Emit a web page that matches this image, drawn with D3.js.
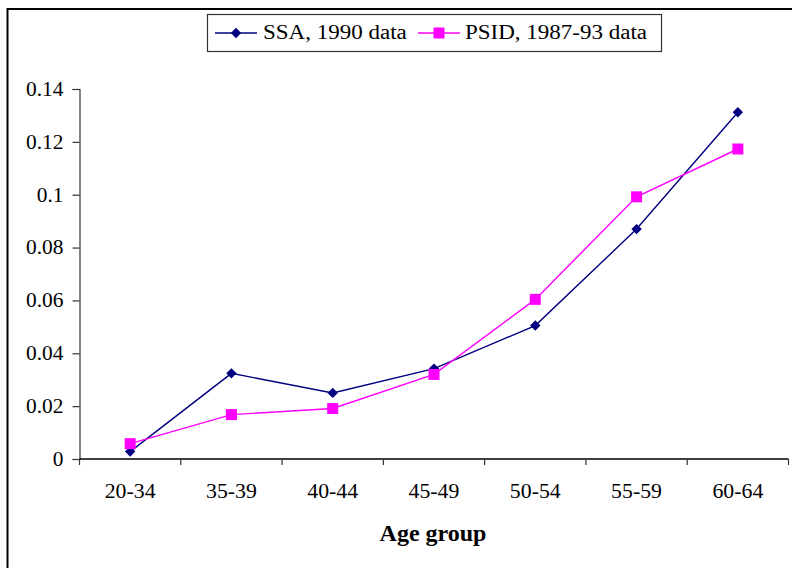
<!DOCTYPE html>
<html>
<head>
<meta charset="utf-8">
<script src="https://cdn.jsdelivr.net/npm/d3@7/dist/d3.min.js"></script>
<style>
  html, body { margin: 0; padding: 0; background: #fff; }
  svg { display: block; }
  text { font-family: "Liberation Serif", "Times New Roman", serif; fill: #000; }
</style>
</head>
<body>
<svg id="chart" width="792" height="568"></svg>
<script>
// Age groups along the x axis
const ageGroups = ["20-34", "35-39", "40-44", "45-49", "50-54", "55-59", "60-64"];
// SSA, 1990 data
const ssaValues = [0.0028, 0.0324, 0.025, 0.0342, 0.0505, 0.087, 0.1312];
// PSID, 1987-93 data
const psidValues = [0.0058, 0.0168, 0.0191, 0.032, 0.0604, 0.0992, 0.1173];
// Y axis tick values and labels
const yTicks = [0, 0.02, 0.04, 0.06, 0.08, 0.1, 0.12, 0.14];
const yTickLabels = ["0", "0.02", "0.04", "0.06", "0.08", "0.1", "0.12", "0.14"];

const seriesNames = ["SSA, 1990 data", "PSID, 1987-93 data"];
const seriesColors = ["#000080", "#FF00FF"];

const svg = d3.select("#chart");

// Widen glyphs a little so the serif text has a roomier, book-like set width
function widen(sel, factor) {
  sel.each(function () {
    const w = this.getComputedTextLength();
    this.setAttribute("textLength", (w * factor).toFixed(2));
    this.setAttribute("lengthAdjust", "spacingAndGlyphs");
  });
}

// Outer frame (left and top edges visible)
svg.append("path")
  .attr("d", "M7.5,568 L7.5,9 L792,9")
  .attr("fill", "none").attr("stroke", "#000").attr("stroke-width", 2);

const plotLeft = 79.5, plotRight = 788.5, plotTop = 89, plotBottom = 459;

const x = d3.scaleBand().domain(ageGroups).range([plotLeft, plotRight]).padding(0);
const y = d3.scaleLinear().domain([0, 0.14]).range([plotBottom, plotTop]);

// Y axis
const yAxis = d3.axisLeft(y).tickValues(yTicks)
  .tickFormat((d, i) => yTickLabels[i]).tickSize(7).tickPadding(9);
const gy = svg.append("g").attr("transform", `translate(${plotLeft},0)`).call(yAxis);
gy.select(".domain").attr("stroke", "#333").attr("stroke-width", 1.2);
gy.selectAll(".tick line").attr("stroke", "#333").attr("stroke-width", 1.2);
gy.selectAll(".tick text").attr("font-family", "Liberation Serif").attr("font-size", 20);
widen(gy.selectAll(".tick text"), 1.07);

// X axis: ticks sit on category boundaries
const gx = svg.append("g").attr("transform", `translate(0,${plotBottom})`);
gx.append("line").attr("x1", plotLeft).attr("x2", plotRight).attr("y1", 0).attr("y2", 0)
  .attr("stroke", "#000").attr("stroke-width", 1.4);
const edges = ageGroups.map(d => x(d)).concat([x(ageGroups[ageGroups.length - 1]) + x.bandwidth()]);
gx.selectAll("line.edge").data(edges).join("line").attr("class", "edge")
  .attr("x1", d => d).attr("x2", d => d).attr("y1", 0).attr("y2", 6)
  .attr("stroke", "#333").attr("stroke-width", 1.2);
const xLabels = gx.selectAll("text").data(ageGroups).join("text")
  .attr("x", d => x(d) + x.bandwidth() / 2).attr("y", 39)
  .attr("text-anchor", "middle").attr("font-size", 20).text(d => d);
widen(xLabels, 1.09);

// Axis title
svg.append("text").attr("x", 433).attr("y", 541)
  .attr("text-anchor", "middle").attr("font-size", 24).attr("font-weight", "bold")
  .text("Age group");

const cx = d => x(d) + x.bandwidth() / 2;
const line = d3.line().x(d => cx(d.k)).y(d => y(d.v));

const series = [ssaValues, psidValues].map(vals => ageGroups.map((k, i) => ({ k, v: vals[i] })));

function drawMarker(g, idx, px, py) {
  if (idx === 0) {
    g.append("path").attr("d", d3.symbol().type(d3.symbolSquare).size(54)())
      .attr("transform", `translate(${px},${py}) rotate(45)`)
      .attr("fill", seriesColors[0]);
  } else {
    g.append("rect").attr("x", px - 5.5).attr("y", py - 5.5).attr("width", 11).attr("height", 11)
      .attr("fill", seriesColors[1]);
  }
}

// Lines then markers, SSA drawn first
series.forEach((s, idx) => {
  const g = svg.append("g");
  g.append("path").datum(s).attr("d", line).attr("fill", "none")
    .attr("stroke", seriesColors[idx]).attr("stroke-width", 1.4);
  s.forEach(d => drawMarker(g, idx, cx(d.k), y(d.v)));
});

// Legend
const lg = svg.append("g");
lg.append("rect").attr("x", 207.5).attr("y", 14.5).attr("width", 454).attr("height", 37)
  .attr("fill", "#fff").attr("stroke", "#333").attr("stroke-width", 1.2);
const legendItems = [
  { x1: 215, x2: 257, tx: 263 },
  { x1: 418, x2: 460, tx: 465 }
];
legendItems.forEach((it, idx) => {
  lg.append("line").attr("x1", it.x1).attr("x2", it.x2).attr("y1", 33).attr("y2", 33)
    .attr("stroke", seriesColors[idx]).attr("stroke-width", 1.4);
  drawMarker(lg, idx, (it.x1 + it.x2) / 2, 33);
  const t = lg.append("text").attr("x", it.tx).attr("y", 39).attr("font-size", 20).text(seriesNames[idx]);
  widen(t, 1.15);
});
</script>
</body>
</html>
